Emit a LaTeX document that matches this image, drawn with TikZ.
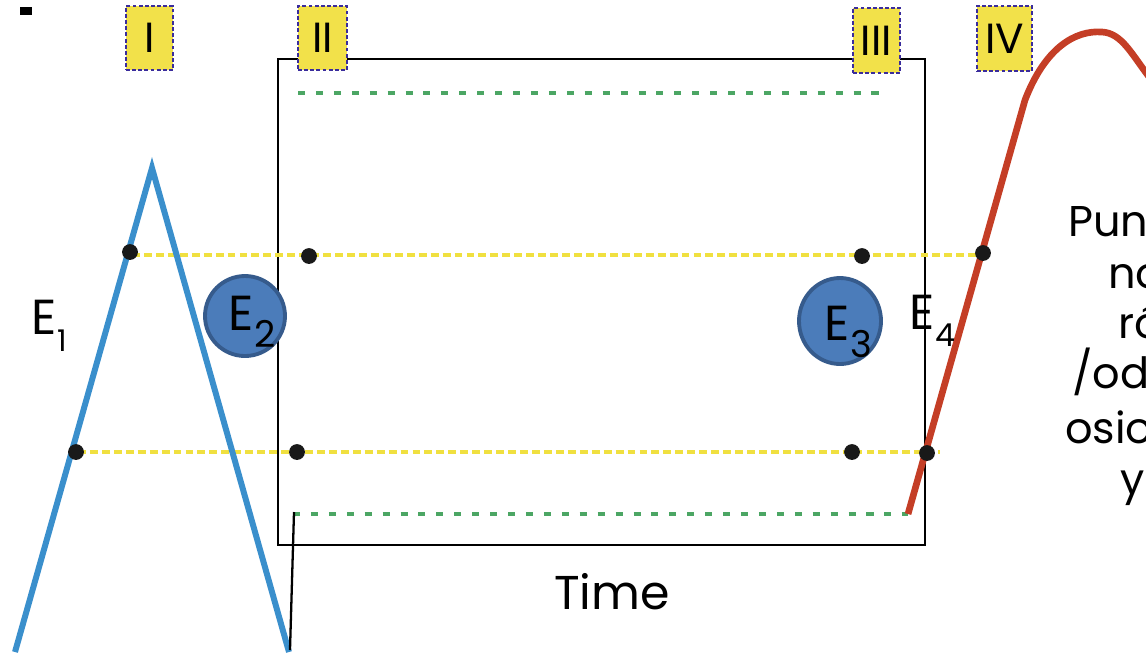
\documentclass[tikz,border=0pt]{standalone}
\usepackage{fontspec}
\setmainfont{Poppins}
\usetikzlibrary{shapes.geometric}
\definecolor{lblfill}{HTML}{F2E14A}
\definecolor{lbldraw}{HTML}{3A2C9C}
\definecolor{grn}{HTML}{4CA664}
\definecolor{ylw}{HTML}{F0E040}
\definecolor{tri}{HTML}{3A8FCC}
\definecolor{circfill}{HTML}{4B7CBA}
\definecolor{circdraw}{HTML}{365B8C}
\definecolor{redc}{HTML}{C43E26}
\newcommand{\Esub}[2]{E\kern0.02em\raisebox{-0.35em}{\fontsize{#2}{#2}\selectfont #1}}
\begin{document}
\begin{tikzpicture}[x=0.02cm,y=-0.02cm,
  lbl/.style={draw=lbldraw,fill=lblfill,line width=1.1pt,dash pattern=on 2.2pt off 1.3pt,
    inner sep=0pt,font=\fontsize{24}{28}\selectfont},
  frame/.style={draw=black,line width=0.8pt},
  gdash/.style={grn,line width=2.3pt,dash pattern=on 4pt off 6.2pt},
  ydash/.style={ylw,line width=2.4pt,dash pattern=on 4.5pt off 2.3pt},
  dot/.style={circle,fill=black!90,inner sep=0pt,minimum size=9pt},
  ecirc/.style={ellipse,fill=circfill,draw=circdraw,line width=2.2pt,inner sep=0pt},
  tline/.style={tri,line width=3.4pt},
  rline/.style={redc,line width=3.8pt},
  etext/.style={font=\fontsize{28}{30}\selectfont,inner sep=0pt},
  rtext/.style={font=\fontsize{24.5}{28}\selectfont,inner sep=0pt,anchor=base west}
]
\useasboundingbox (0,0) rectangle (1146,654);
\clip (0,0) rectangle (1146,654);

% small mark top-left
\fill[black] (20,7) rectangle (32,15);

% frame
\node[frame,minimum width=647*0.02cm,minimum height=486*0.02cm,inner sep=0pt] (box) at (601.5,302) {};

% green dashed lines
\coordinate (g1a) at (298,93); \coordinate (g1b) at (882,93);
\coordinate (g2a) at (293,514); \coordinate (g2b) at (908,514);
\draw[gdash] (g1a) -- (g1b);
\draw[gdash] (g2a) -- (g2b);

% yellow dashed lines
\coordinate (y1a) at (132,255); \coordinate (y1b) at (986,255);
\coordinate (y2a) at (78,452); \coordinate (y2b) at (940,452);
\draw[ydash] (y1a) -- (y1b);
\draw[ydash] (y2a) -- (y2b);

% blue triangle
\coordinate (t1) at (15,652);
\coordinate (t2) at (152,168);
\coordinate (t3) at (289,652);
\draw[tline,line join=miter] (t1) -- (t2) -- (t3);

% black thin line
\coordinate (bl1) at (290,650);
\coordinate (bl2) at (294,512);
\draw[black,line width=1.3pt] (bl1) -- (bl2);

% red curve
\coordinate (r0) at (908,514);
\coordinate (r1) at (1025,100);
\coordinate (r2) at (1102,32);
\coordinate (r3) at (1150,78);
\draw[rline] (r0) -- (r1) .. controls (1045,48) and (1075,30) .. (r2)
  .. controls (1122,33) and (1132,55) .. (r3);

% dots
\node[dot] (d1) at (130,252) {};
\node[dot] (d2) at (309,256) {};
\node[dot] (d3) at (862,256) {};
\node[dot] (d4) at (983,253) {};
\node[dot] (d5) at (76,452) {};
\node[dot] (d6) at (297,452) {};
\node[dot] (d7) at (852,452) {};
\node[dot] (d8) at (927,453) {};

% circles
\node[ecirc,minimum width=80*0.02cm,minimum height=80*0.02cm] (c2) at (245,316) {};
\node[ecirc,minimum width=82*0.02cm,minimum height=86*0.02cm] (c3) at (840,321) {};

% E labels
\node[etext,anchor=base west] (e1) at (31,334) {\Esub{1}{17}};
\node[etext,anchor=base west] (e2) at (228,330) {\Esub{2}{21}};
\node[etext,anchor=base west] (e3) at (824,340) {\Esub{3}{21}};
\node[etext,anchor=base west] (e4) at (909,329) {\Esub{4}{18}};

% label boxes
\node[lbl,minimum width=47*0.02cm,minimum height=64*0.02cm] (L1) at (149.5,38) {I};
\node[lbl,minimum width=49*0.02cm,minimum height=64*0.02cm] (L2) at (322.5,38) {II};
\node[lbl,minimum width=47*0.02cm,minimum height=65*0.02cm] (L3) at (876.5,40.5) {III};
\node[lbl,minimum width=55*0.02cm,minimum height=65*0.02cm] (L4) at (1004.5,38.5) {IV};

% Time
\node[font=\fontsize{27}{30}\selectfont,inner sep=0pt,anchor=base] (time) at (612,609) {Time};

% right text (clipped at the edge, as in the reference)
\node[rtext] (p1) at (1068,236) {Pun};
\node[rtext] (p2) at (1108,288) {no};
\node[rtext] (p3) at (1118,338) {ró};
\node[rtext] (p4) at (1072,388) {/od};
\node[rtext] (p5) at (1065,443) {osio};
\node[rtext] (p6) at (1120,494) {y};
\end{tikzpicture}
\end{document}
